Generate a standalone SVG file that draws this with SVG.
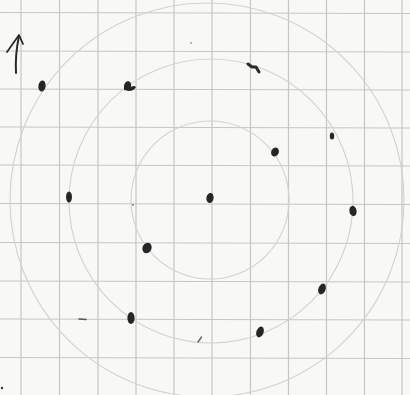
<svg xmlns="http://www.w3.org/2000/svg" width="410" height="395" viewBox="0 0 410 395">
<style>
.grid line{stroke:#c6c6c6;stroke-width:1.2}
.ring{fill:none;stroke:#d2d2d2;stroke-width:1.1}
.dot{fill:#262626}
.ink{fill:none;stroke:#2a2a2a;stroke-linecap:round;stroke-linejoin:round}
</style>
<rect width="410" height="395" fill="#f8f8f6"/>
<g class="grid">
<line x1="21" y1="0" x2="21" y2="395"/>
<line x1="59.5" y1="0" x2="59.5" y2="395"/>
<line x1="98" y1="0" x2="98" y2="395"/>
<line x1="136" y1="0" x2="136" y2="395"/>
<line x1="174" y1="0" x2="174" y2="395"/>
<line x1="212" y1="0" x2="212" y2="395"/>
<line x1="250.5" y1="0" x2="250.5" y2="395"/>
<line x1="288.5" y1="0" x2="288.5" y2="395"/>
<line x1="326.5" y1="0" x2="326.5" y2="395"/>
<line x1="364.5" y1="0" x2="364.5" y2="395"/>
<line x1="402" y1="0" x2="402" y2="395"/>
<line x1="0" y1="12.5" x2="410" y2="13.5"/>
<line x1="0" y1="51" x2="410" y2="52"/>
<line x1="0" y1="89" x2="410" y2="90"/>
<line x1="0" y1="127" x2="410" y2="128"/>
<line x1="0" y1="165" x2="410" y2="166"/>
<line x1="0" y1="203.5" x2="410" y2="204.5"/>
<line x1="0" y1="242.5" x2="410" y2="243.5"/>
<line x1="0" y1="281" x2="410" y2="282"/>
<line x1="0" y1="319" x2="410" y2="320"/>
<line x1="0" y1="357.5" x2="410" y2="358.5"/>
</g>
<g id="rings">
<circle class="ring" cx="210" cy="200" r="79"/>
<circle class="ring" cx="211" cy="201" r="142"/>
<circle class="ring" cx="207" cy="200" r="197"/>
</g>
<g id="arrow">
<path class="ink" d="M16 73 Q15 55 19 36" stroke-width="2"/>
<path class="ink" d="M7 52 L19 35 L23 44" stroke-width="1.8"/>
</g>
<g id="dots">
<ellipse class="dot" cx="42" cy="86" rx="3.6" ry="5.6" transform="rotate(8 42 86)"/>
<path class="dot" d="M124 90 Q123 82 128 81 Q132 82 131 87 Q134 85 136 87 Q134 91 129 91 Z"/>
<path class="ink" d="M248 64 L252 67 L256 67 L259 72" stroke-width="3"/>
<ellipse class="dot" cx="332" cy="136" rx="2.2" ry="3.6"/>
<ellipse class="dot" cx="275" cy="152" rx="3.8" ry="4.6" transform="rotate(25 275 152)"/>
<ellipse class="dot" cx="210" cy="198" rx="3.6" ry="5" transform="rotate(10 210 198)"/>
<ellipse class="dot" cx="69" cy="197" rx="3" ry="5.5"/>
<ellipse class="dot" cx="147" cy="248" rx="4.5" ry="5.4" transform="rotate(25 147 248)"/>
<ellipse class="dot" cx="131" cy="318" rx="3.6" ry="6"/>
<ellipse class="dot" cx="353" cy="211" rx="3.6" ry="5.2" transform="rotate(-10 353 211)"/>
<ellipse class="dot" cx="322" cy="289" rx="3.6" ry="5.6" transform="rotate(20 322 289)"/>
<ellipse class="dot" cx="260" cy="332" rx="3.6" ry="5.6" transform="rotate(20 260 332)"/>
</g>
<g id="marks">
<path d="M79 319 L86 319.5" stroke="#555" stroke-width="1.6" stroke-linecap="round"/>
<path d="M198 342 L201.5 337" stroke="#666" stroke-width="1.4" stroke-linecap="round"/>
<circle cx="2" cy="388" r="1.2" fill="#333"/>
<circle cx="133" cy="205" r="1" fill="#888"/>
<circle cx="191" cy="43" r="0.9" fill="#999"/>
</g>
</svg>
